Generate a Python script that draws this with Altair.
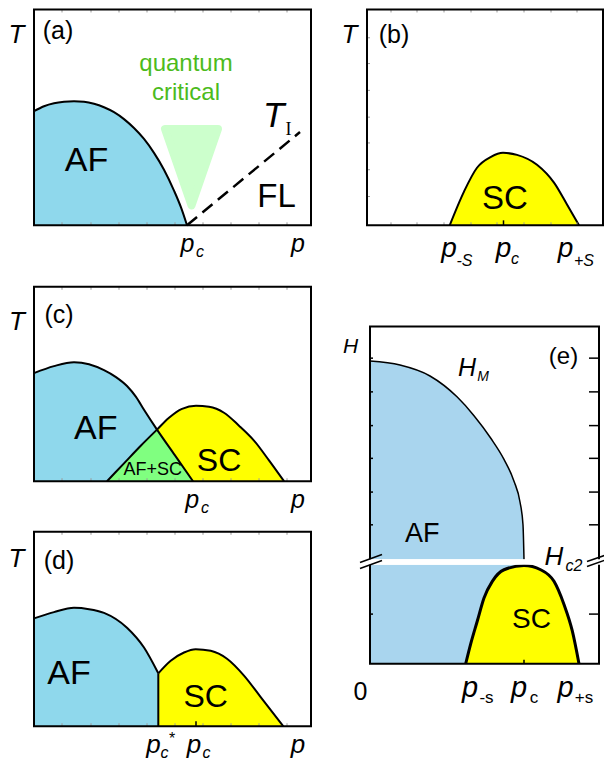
import altair as alt
import pandas as pd

# ---------------- values ----------------
# Units: pixels measured from the lower-left corner of each panel frame
# (p grows to the right, T / H grows upwards).

# panel (a)
A_AF_P = [0, 10, 20, 30, 40, 50, 60, 70, 80, 90, 100, 110, 120, 130, 140, 147, 153]
A_AF_T = [115, 120, 123, 124.5, 125, 124.5, 122.5, 119, 114, 107, 98, 87, 73, 56, 35, 18, 0]
A_QC_P = [131, 157.5, 184]
A_QC_TOP = [97, 97, 97]
A_QC_BOT = [97, 20, 97]
A_TI_P = [153, 266]
A_TI_T = [0, 94]
# panel (b)
B_SC_P = [82.7, 97, 110, 124, 136, 150, 170, 187, 200, 212]
B_SC_T = [0, 34, 58, 69, 73, 71, 61, 43, 21, 0]
# panel (c)
C_AF_P = [0, 20, 40, 55, 70, 82, 93, 102, 110, 123, 141, 159]
C_AF_T = [109, 116, 120, 118, 112, 105, 96, 85, 72, 52, 26, 0]
C_SC_P = [73, 90, 107, 123, 135, 148, 162, 175, 190, 205, 220, 235, 250]
C_SC_T = [0, 18, 36, 52, 64, 73, 76, 75, 69, 56, 41, 21, 0]
C_MIX_P = [73, 90, 107, 123, 141, 159]
C_MIX_T = [0, 18, 36, 52, 26, 0]
# panel (d)
D_AF_P = [0, 20, 40, 55, 70, 93, 110, 124.3]
D_AF_T = [108.7, 115, 119.3, 118, 114.3, 99.3, 79.3, 53.3]
D_SC_P = [124.3, 136.7, 150, 161.7, 176.7, 193, 210, 226.7, 249.3]
D_SC_T = [53.3, 66, 74.3, 77.7, 76, 68, 51, 29.3, 0]
D_PSTAR = 124.3
# panel (e)
E_HM_P = [0, 30, 60, 87, 104, 121, 134, 144, 150, 153, 154]
E_HM_H = [305, 301, 290, 269, 250, 227, 206, 184, 163, 140, 105]
E_BREAK_LO = 99.7
E_BREAK_HI = 105.3
E_AF_LOW_P = [0, 154]
E_SC_P = [95.7, 100.7, 107.3, 114, 122.3, 134, 154, 170.7, 184, 194, 202.3, 209]
E_SC_H = [0, 20, 43, 66.3, 83, 94.7, 99, 94.7, 83, 59.7, 33, 0]
E_BRK = [(-10, 96, 12, 104), (-10, 102, 12, 110), (217, 98, 237, 105), (217, 103, 237, 110)]

# minor ticks
ACD_TICKS_X = [28, 57, 85, 113, 141, 169, 197, 225, 253]
B_TICKS_X = [24, 50, 77, 104, 130, 157, 184, 210]
B_TICKS_Y = [29, 56, 83, 109, 136, 163, 189]
E_TICKS_Y = [308, 274, 240, 207, 173, 140, 50]
PC_TICK = {'b': 136.5, 'd': 162, 'e': 154}

# labels: (text, x, y(baseline), font size, style n=upright i=italic s=serif)
A_LABELS = [('(a)', 24, 188, 25, 'n'), ('AF', 52.5, 54.3, 34, 'n'), ('FL', 242.5, 18, 33, 'n'),
            ('T', -17.5, 184, 26, 'i'), ('T', 239.7, 99.3, 35, 'i'), ('I', 254.5, 91, 18, 's'),
            ('p', 153.5, -27, 25, 'i'), ('c', 166, -32, 16, 'i'), ('p', 264, -27, 25, 'i')]
A_QC_LABELS = [('quantum', 152, 156, 24, 'n'), ('critical', 152, 126, 24, 'n')]
B_LABELS = [('(b)', 27, 184, 25, 'n'), ('SC', 138, 16, 33, 'n'), ('T', -17.5, 184, 26, 'i'),
            ('p', 82, -31.8, 28, 'i'), ('-S', 97.5, -40.7, 16, 'i'),
            ('p', 136.5, -31.8, 28, 'i'), ('c', 148, -39, 16, 'i'),
            ('p', 198.5, -31.8, 28, 'i'), ('+S', 217, -40.7, 16, 'i')]
C_LABELS = [('(c)', 25, 159, 25, 'n'), ('AF', 61.7, 42.3, 34, 'n'), ('SC', 185, 10.7, 32, 'n'),
            ('AF+SC', 118.8, 6.3, 18, 'n'), ('T', -17, 152.3, 26, 'i'),
            ('p', 158.3, -27.3, 25, 'i'), ('c', 171, -32, 16, 'i'), ('p', 264, -27.3, 25, 'i')]
D_LABELS = [('(d)', 25, 158, 25, 'n'), ('AF', 35, 42.7, 34, 'n'), ('SC', 171.7, 19.3, 32, 'n'),
            ('*', 138, -18, 16, 'n'), ('T', -17.5, 161, 26, 'i'),
            ('p', 119.5, -27.5, 26, 'i'), ('c', 130.5, -32, 16, 'i'),
            ('p', 160, -27.5, 26, 'i'), ('c', 172.5, -32, 16, 'i'), ('p', 264, -27.5, 26, 'i')]
E_LABELS = [('(e)', 193.5, 302, 24, 'n'), ('AF', 52.3, 123, 27, 'n'), ('SC', 161.5, 36.3, 28, 'n'),
            ('0', -9.5, -37, 25, 'n'), ('-s', 116.5, -40, 17, 'n'), ('c', 164, -40, 17, 'n'),
            ('+s', 214, -40, 17, 'n'), ('H', -19.5, 313, 21, 'i'), ('H', 97, 289.7, 25, 'i'),
            ('M', 113, 284.7, 14, 'i'), ('H', 184, 99, 26, 'i'), ('c2', 204, 93, 16, 'i'),
            ('p', 100, -34, 29, 'i'), ('p', 149, -34, 29, 'i'), ('p', 195.5, -34, 29, 'i')]

# colours
BLUE = '#8fd8ec'
BLUE_E = '#a9d5ee'
YELLOW = '#ffff00'
MIX = '#80ff80'
QC_FILL = '#ccffcc'
QC_TEXT = '#4cbb1c'
TICK = '#9a9a9a'

# ---------------- layout: each panel has its own scales ----------------
PANELS = {
    'a': dict(xd=[0, 277], yd=[0, 217.5], xr=[26, 303], yr=[217.3, 1.5]),
    'b': dict(xd=[0, 236], yd=[0, 217.5], xr=[359, 595], yr=[217.3, 1.5]),
    'c': dict(xd=[0, 277], yd=[0, 196], xr=[26, 303], yr=[473.2, 278.8]),
    'd': dict(xd=[0, 277], yd=[0, 196], xr=[26, 303], yr=[718.2, 523.8]),
    'e': dict(xd=[0, 229], yd=[0, 340], xr=[362, 591], yr=[655.7, 318.4]),
}

layers = []


def base(p, df, x, y, x2=None, y2=None):
    P = PANELS[p]
    enc = dict(
        x=alt.X(x, type='quantitative', axis=None,
                scale=alt.Scale(domain=P['xd'], range=P['xr'], nice=False, zero=False)),
        y=alt.Y(y, type='quantitative', axis=None,
                scale=alt.Scale(domain=P['yd'], range=P['yr'], nice=False, zero=False)),
    )
    if x2:
        enc['x2'] = alt.X2(x2)
    if y2:
        enc['y2'] = alt.Y2(y2)
    return alt.Chart(df).encode(**enc)


def area(p, xs, ys, color, interp='monotone', **kw):
    df = pd.DataFrame({'x': xs, 'y': ys, 'y0': [0] * len(xs)})
    layers.append(base(p, df, 'x', 'y', y2='y0').mark_area(color=color, interpolate=interp, **kw))


def line(p, xs, ys, width=2, interp='monotone', **kw):
    df = pd.DataFrame({'x': xs, 'y': ys})
    layers.append(base(p, df, 'x', 'y').mark_line(color='black', strokeWidth=width,
                                                   interpolate=interp, **kw))


def segs(p, rows, color='black', width=1):
    df = pd.DataFrame(rows, columns=['x0', 'y0', 'x1', 'y1'])
    layers.append(base(p, df, 'x0', 'y0', x2='x1', y2='y1').mark_rule(color=color, strokeWidth=width))


def frame(p, width=2):
    P = PANELS[p]
    df = pd.DataFrame({'x0': [P['xd'][0]], 'x1': [P['xd'][1]], 'y0': [P['yd'][0]], 'y1': [P['yd'][1]]})
    layers.append(base(p, df, 'x0', 'y0', x2='x1', y2='y1').mark_rect(
        fillOpacity=0, stroke='black', strokeWidth=width))


def labels(p, rows, color='black'):
    df = pd.DataFrame(rows, columns=['t', 'x', 'y', 's', 'st'])
    for st, font, style in [('n', 'Liberation Sans', 'normal'), ('i', 'Liberation Sans', 'italic'),
                            ('s', 'Liberation Serif', 'normal')]:
        sub = df[df['st'] == st]
        if len(sub) == 0:
            continue
        layers.append(base(p, sub, 'x', 'y').mark_text(
            align='center', baseline='alphabetic', font=font, fontStyle=style, color=color
        ).encode(text='t:N', size=alt.Size('s:Q', scale=None)))


def minor_ticks(p, xs=(), ys=()):
    P = PANELS[p]
    w, h = P['xd'][1], P['yd'][1]
    rows = [(x, 0, x, 3) for x in xs] + [(x, h - 3, x, h) for x in xs] + [(0, y, 3, y) for y in ys]
    if rows:
        segs(p, rows, color=TICK, width=1)


# ---- (a)
area('a', A_AF_P, A_AF_T, BLUE)
line('a', A_AF_P, A_AF_T)
qc = pd.DataFrame({'x': A_QC_P, 'top': A_QC_TOP, 'bot': A_QC_BOT})
layers.append(base('a', qc, 'x', 'top', y2='bot').mark_area(
    color=QC_FILL, stroke=QC_FILL, strokeWidth=8, strokeJoin='round', interpolate='linear'))
line('a', A_TI_P, A_TI_T, width=2.5, interp='linear', strokeDash=[13, 7])
minor_ticks('a', xs=ACD_TICKS_X)
frame('a')
labels('a', A_LABELS)
labels('a', A_QC_LABELS, color=QC_TEXT)

# ---- (b)
area('b', B_SC_P, B_SC_T, YELLOW)
line('b', B_SC_P, B_SC_T)
minor_ticks('b', xs=B_TICKS_X, ys=B_TICKS_Y)
segs('b', [(PC_TICK['b'], 0, PC_TICK['b'], 5)], width=1.5)
frame('b')
labels('b', B_LABELS)

# ---- (c)
area('c', C_AF_P, C_AF_T, BLUE)
area('c', C_SC_P, C_SC_T, YELLOW)
area('c', C_MIX_P, C_MIX_T, MIX, interp='linear')
line('c', C_AF_P, C_AF_T)
line('c', C_SC_P, C_SC_T)
minor_ticks('c', xs=ACD_TICKS_X)
frame('c')
labels('c', C_LABELS)

# ---- (d)
area('d', D_AF_P, D_AF_T, BLUE)
area('d', D_SC_P, D_SC_T, YELLOW)
line('d', D_AF_P, D_AF_T)
line('d', D_SC_P, D_SC_T)
segs('d', [(D_PSTAR, 0, D_PSTAR, D_AF_T[-1])], width=2)
minor_ticks('d', xs=ACD_TICKS_X)
segs('d', [(PC_TICK['d'], 0, PC_TICK['d'], 5)], width=1.5)
frame('d')
labels('d', D_LABELS)

# ---- (e)
hm = pd.DataFrame({'x': E_HM_P, 'y': E_HM_H, 'y0': [E_BREAK_HI] * len(E_HM_P)})
layers.append(base('e', hm, 'x', 'y', y2='y0').mark_area(color=BLUE_E, interpolate='monotone'))
low = pd.DataFrame({'x0': [E_AF_LOW_P[0]], 'x1': [E_AF_LOW_P[1]], 'y0': [0], 'y1': [E_BREAK_LO]})
layers.append(base('e', low, 'x0', 'y0', x2='x1', y2='y1').mark_rect(color=BLUE_E))
line('e', E_HM_P, E_HM_H, width=1.5)
area('e', E_SC_P, E_SC_H, YELLOW)
line('e', E_SC_P, E_SC_H, width=3)
segs('e', [(PC_TICK['e'], 0, PC_TICK['e'], 4)], width=1.5)
segs('e', [(229 - 10, y, 229, y) for y in E_TICKS_Y] + [(0, y, 3, y) for y in E_TICKS_Y], width=1.5)
frame('e')
gap = pd.DataFrame({'x0': [-3], 'x1': [232], 'y0': [E_BREAK_LO], 'y1': [E_BREAK_HI]})
layers.append(base('e', gap, 'x0', 'y0', x2='x1', y2='y1').mark_rect(color='white'))
segs('e', E_BRK, width=1.5)
labels('e', E_LABELS)

chart = alt.layer(*layers).resolve_scale(x='independent', y='independent').properties(
    width=596, height=755, padding=0, autosize=alt.AutoSizeParams(type='none')
).configure_view(stroke=None)

chart.save('out.html', embed_options={'renderer': 'svg', 'actions': False})
